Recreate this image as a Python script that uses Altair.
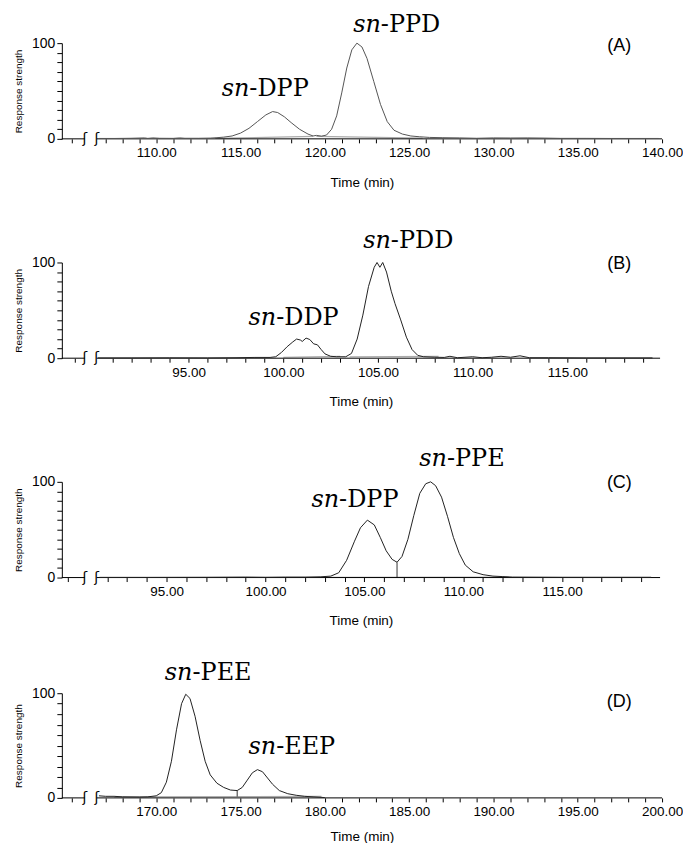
import math
import altair as alt
import pandas as pd

SANS = "Liberation Sans"
SERIF = "DejaVu Serif"

# ---------------- data ----------------
a_time = [106.6, 107.5, 108.5, 109.3, 109.5, 109.8, 110.2, 111.0, 111.4, 111.7, 112.5, 113.2, 113.6, 114.0,
          114.5, 115.0, 115.5, 116.0, 116.5, 116.9, 117.2, 117.6, 118.0, 118.5, 119.0, 119.3, 119.5, 119.8,
          120.1, 120.4, 120.7, 121.0, 121.3, 121.6, 121.9, 122.2, 122.5, 122.9, 123.3, 123.7, 124.1, 124.6,
          125.1, 125.6, 126.2, 127.0, 128.0, 129.0, 130.0, 131.0, 132.0, 133.0, 134.0, 135.5, 137.0, 139.8]
a_resp = [0.4, 0.4, 0.6, 1.0, 0.5, 1.0, 0.6, 0.5, 1.0, 0.6, 0.6, 0.8, 1.2, 1.8,
          3.0, 6.0, 11.0, 18.0, 25.0, 28.5, 27.5, 23.0, 17.0, 10.0, 5.0, 3.0, 3.6, 2.8,
          4.0, 10.0, 24.0, 48.0, 74.0, 93.0, 100.0, 96.0, 84.0, 60.0, 36.0, 18.0, 9.0, 5.0,
          3.0, 2.2, 1.5, 1.2, 1.0, 0.6, 1.0, 0.9, 1.0, 0.8, 0.5, 0.5, 0.4, 0.4]

b_time = [90.2, 92.0, 94.0, 96.0, 97.5, 98.5, 99.3, 99.6, 99.9, 100.2, 100.5, 100.7, 100.9, 101.0,
          101.2, 101.4, 101.6, 101.8, 102.0, 102.2, 102.5, 102.8, 103.3, 103.6, 103.9, 104.2, 104.5,
          104.8, 104.95, 105.1, 105.25, 105.45, 105.7, 105.9, 106.2, 106.5, 106.8, 107.1, 107.4, 108.0,
          108.5, 108.8, 109.2, 110.0, 110.5, 111.0, 111.5, 112.0, 112.5, 113.0, 114.0, 116.0, 119.5]
b_resp = [0.3, 0.3, 0.4, 0.3, 0.5, 0.8, 0.8, 1.5, 6.0, 12.0, 17.0, 20.0, 19.0, 17.5,
          21.0, 19.5, 15.0, 14.0, 9.0, 4.5, 2.0, 1.5, 1.5, 5.0, 20.0, 45.0, 75.0,
          95.0, 100.0, 95.0, 100.0, 90.0, 70.0, 57.0, 40.0, 22.0, 9.0, 3.0, 1.5, 1.0,
          0.8, 2.0, 0.5, 1.5, 0.5, 1.0, 2.0, 1.0, 2.5, 0.5, 0.5, 0.3, 0.3]

c_time = [91.6, 94.0, 97.0, 99.0, 100.0, 101.0, 102.0, 102.8, 103.3, 103.7, 104.1, 104.5, 104.8,
          105.15, 105.5, 105.8, 106.1, 106.4, 106.65, 106.9, 107.2, 107.5, 107.8, 108.1, 108.35, 108.6,
          108.9, 109.2, 109.5, 109.8, 110.1, 110.5, 111.0, 111.5, 112.0, 112.5, 115.0, 119.5]
c_resp = [0.2, 0.2, 0.3, 0.5, 0.3, 0.5, 0.5, 0.8, 1.5, 5.0, 18.0, 38.0, 52.0,
          60.0, 55.0, 42.0, 28.0, 19.0, 16.0, 22.0, 40.0, 65.0, 88.0, 98.0, 100.0, 96.0,
          84.0, 64.0, 42.0, 25.0, 13.0, 6.0, 3.0, 1.5, 1.0, 0.5, 0.3, 0.3]

d_time = [166.6, 167.0, 167.5, 168.0, 169.0, 169.5, 170.0, 170.3, 170.6, 170.9, 171.2, 171.5, 171.75,
          172.0, 172.3, 172.6, 172.9, 173.2, 173.6, 174.0, 174.4, 174.8, 175.1, 175.4, 175.7, 176.0,
          176.3, 176.6, 176.9, 177.3, 177.8, 178.3, 178.8, 179.3, 180.0]
d_resp = [2.0, 1.5, 1.5, 1.0, 0.8, 1.0, 2.0, 5.0, 15.0, 35.0, 65.0, 90.0, 99.0,
          95.0, 78.0, 55.0, 35.0, 22.0, 14.0, 10.0, 7.5, 7.0, 10.0, 17.0, 24.0, 27.0,
          25.0, 19.0, 13.0, 7.0, 4.0, 2.5, 1.5, 1.0, 0.3]

# tick labels (every 5 min) ; minor ticks every minute
a_labels = [110, 115, 120, 125, 130, 135, 140]
b_labels = [95, 100, 105, 110, 115]
c_labels = [95, 100, 105, 110, 115]
d_labels = [170, 175, 180, 185, 190, 195, 200]

# integration baselines: (t_start, v_start, t_end, v_end)
a_base = [(113.5, 0.5, 119.3, 2.5), (119.5, 2.5, 125.8, 0.8)]
b_base = [(100.0, 1.0, 103.0, 2.0), (103.5, 1.5, 108.2, 2.0)]
c_base = [(103.0, 0.3, 112.3, 0.6)]
d_base = [(167.5, 1.0, 179.8, 1.5)]

# drop lines at the valley: (t, v_start, v_end)
a_drop = []
b_drop = []
c_drop = [(106.65, 0.0, 16.0)]
d_drop = [(174.8, 1.2, 7.0)]

# peak names: (italic part, roman part, time, value)
a_peaks = [("sn", "-PPD", 123.32, 111.5), ("sn", "-DPP", 115.52, 44.8)]
b_peaks = [("sn", "-PDD", 105.68, 115.6), ("sn", "-DDP", 99.62, 34.4)]
c_peaks = [("sn", "-PPE", 109.17, 116.7), ("sn", "-DPP", 103.72, 74.0)]
d_peaks = [("sn", "-PEE", 172.15, 112.5), ("sn", "-EEP", 177.11, 42.3)]

# panel tags: (text, time, value)
a_tag = ("(A)", 137.46, 96.9)
b_tag = ("(B)", 117.74, 97.9)
c_tag = ("(C)", 117.89, 99.0)
d_tag = ("(D)", 197.46, 91.3)

# axis domains and axis-break positions
a_domain, a_break = [104.4, 140.0], (105.76, 106.47)
b_domain, b_break = [88.3, 119.9], (89.51, 90.14)
c_domain, c_break = [89.7, 119.95], (90.86, 91.46)
d_domain, d_break = [164.4, 200.0], (165.76, 166.47)


def panel(time, resp, domain, brk, labels, base, drops, peaks, tag, width, height, color, title_pad=16):
    lo, hi = domain
    ticks = [t for t in range(math.ceil(lo), math.floor(hi) + 1) if not (brk[0] - 0.3 < t < brk[1] + 0.3)]
    rows = []
    for t, v in zip(time, resp):
        rows.append({"kind": "sig", "t": t, "v": v})
    for t1, v1, t2, v2 in base:
        rows.append({"kind": "base", "t": t1, "v": v1, "t2": t2, "v2": v2})
    for t, v1, v2 in drops:
        rows.append({"kind": "drop", "t": t, "v": v1, "t2": t, "v2": v2})
    rows.append({"kind": "dom", "t": lo, "v": 0, "t2": brk[0], "v2": 0})
    rows.append({"kind": "dom", "t": brk[1], "v": 0, "t2": hi, "v2": 0})
    for b in brk:
        rows.append({"kind": "brk", "t": b, "v": 0, "text": "ʃ"})
    for it, rm, t, v in peaks:
        rows.append({"kind": "it", "t": t, "v": v, "text": it})
        rows.append({"kind": "rm", "t": t, "v": v, "text": rm})
    rows.append({"kind": "tag", "t": tag[1], "v": tag[2], "text": tag[0]})
    df = pd.DataFrame(rows)

    label_list = "[" + ",".join(str(v) for v in labels) + "]"
    xs = alt.Scale(domain=domain, nice=False, zero=False)
    ys = alt.Scale(domain=[0, 100], nice=False)
    xaxis = alt.Axis(values=ticks,
                     labelExpr=f"indexof({label_list}, datum.value) >= 0 ? format(datum.value, '.2f') : ''",
                     title="Time (min)", domain=False, grid=False, tickSize=4, labelPadding=3,
                     titlePadding=title_pad, labelFlush=False, labelOverlap=False,
                     labelFontSize=13.5, titleFontSize=13.5)
    yaxis = alt.Axis(values=list(range(0, 101, 10)),
                     labelExpr="datum.value === 0 || datum.value === 100 ? datum.label : ''",
                     title="Response strength", grid=False, tickSize=5, labelPadding=2,
                     titlePadding=8, labelFontSize=14, titleFontSize=10, labelOverlap=False)

    basech = alt.Chart(df).encode(
        x=alt.X("t:Q", scale=xs, axis=xaxis),
        y=alt.Y("v:Q", scale=ys, axis=yaxis),
    )
    f = lambda k: alt.datum.kind == k
    layers = [
        basech.transform_filter(f("base")).mark_rule(color="#aaaaaa", strokeWidth=1.2)
        .encode(x2="t2:Q", y2="v2:Q"),
        basech.transform_filter(f("drop")).mark_rule(color="#333333", strokeWidth=1)
        .encode(x2="t2:Q", y2="v2:Q"),
        basech.transform_filter(f("dom")).mark_rule(color="black", strokeWidth=1)
        .encode(x2="t2:Q", y2="v2:Q"),
        basech.transform_filter(f("sig")).mark_line(color=color, strokeWidth=1),
        basech.transform_filter(f("brk")).mark_text(font="DejaVu Sans", fontSize=14, baseline="middle",
                                                    align="center", color="black").encode(text="text:N"),
        basech.transform_filter(f("it")).mark_text(font=SERIF, fontStyle="italic", fontSize=24, align="right",
                                                   baseline="alphabetic", color="black").encode(text="text:N"),
        basech.transform_filter(f("rm")).mark_text(font=SERIF, fontSize=24, align="left",
                                                   baseline="alphabetic", color="black").encode(text="text:N"),
        basech.transform_filter(f("tag")).mark_text(font=SANS, fontSize=18, align="center",
                                                    baseline="middle", color="black").encode(text="text:N"),
    ]
    return alt.layer(*layers).properties(width=width, height=height)


pa = panel(a_time, a_resp, a_domain, a_break, a_labels, a_base, a_drop, a_peaks, a_tag, 602, 96, "#555555")
pb = panel(b_time, b_resp, b_domain, b_break, b_labels, b_base, b_drop, b_peaks, b_tag, 600, 96, "#222222")
pc = panel(c_time, c_resp, c_domain, c_break, c_labels, c_base, c_drop, c_peaks, c_tag, 600, 96, "#222222")
pd_ = panel(d_time, d_resp, d_domain, d_break, d_labels, d_base, d_drop, d_peaks, d_tag, 602, 105, "#222222",
            title_pad=11)

inner = alt.vconcat(pa, pb, pc, spacing=124, bounds="flush")
chart = alt.vconcat(inner, pd_, spacing=33, bounds="full").properties(
    padding={"left": 5, "top": 3, "right": 0, "bottom": 0}
).configure_view(stroke=None).configure_axis(
    labelFont=SANS, titleFont=SANS, labelColor="black", titleColor="black",
    tickColor="black", domainColor="black", titleFontWeight="normal"
)

chart.save("out.html", embed_options={"renderer": "svg", "actions": False})
